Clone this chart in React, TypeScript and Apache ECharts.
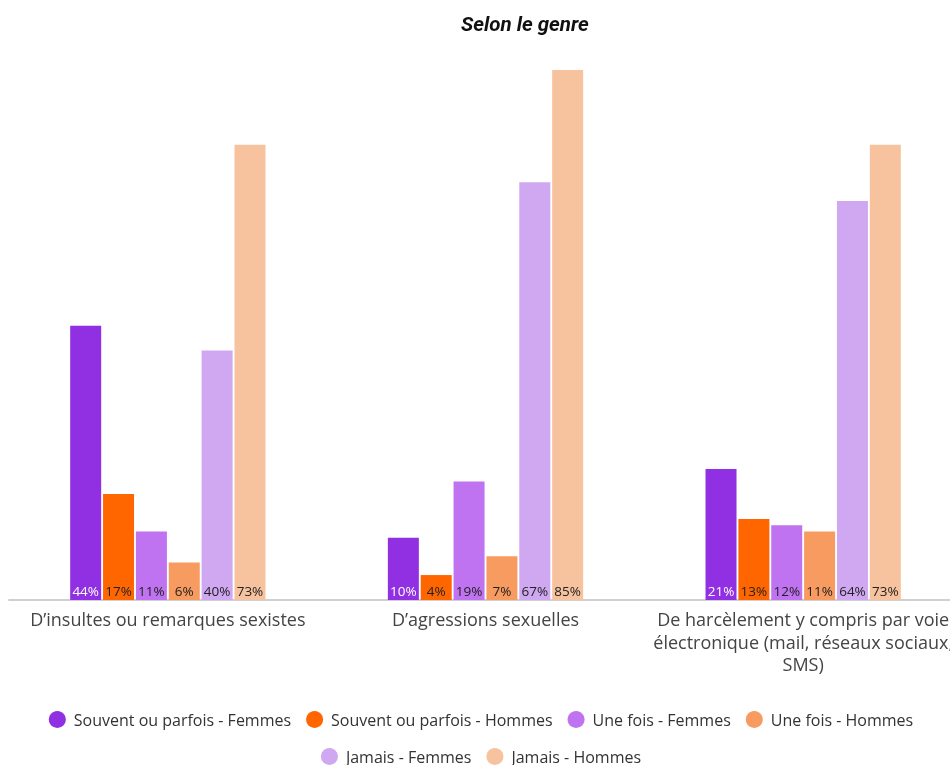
import React, { useEffect, useRef } from "react";
import * as echarts from "echarts";

const categories = [
  "D\u2019insultes ou remarques sexistes",
  "D\u2019agressions sexuelles",
  "De harcèlement y compris par voie\nélectronique (mail, réseaux sociaux,\nSMS)",
];
const seriesNames = [
  "Souvent ou parfois - Femmes",
  "Souvent ou parfois - Hommes",
  "Une fois - Femmes",
  "Une fois - Hommes",
  "Jamais - Femmes",
  "Jamais - Hommes",
];
const souventFemmes = [44, 10, 21];
const souventHommes = [17, 4, 13];
const uneFoisFemmes = [11, 19, 12];
const uneFoisHommes = [6, 7, 11];
const jamaisFemmes = [40, 67, 64];
const jamaisHommes = [73, 85, 73];
const seriesValues = [souventFemmes, souventHommes, uneFoisFemmes, uneFoisHommes, jamaisFemmes, jamaisHommes];
const colors = ["#9130e3", "#ff6600", "#c073f0", "#f79b60", "#d0a7f1", "#f7c39e"];
const labelColors = ["#ffffff", "#222222", "#222222", "#222222", "#222222", "#222222"];

const legendBase = {
  left: "center",
  icon: "circle",
  itemWidth: 17,
  itemHeight: 17,
  itemGap: 15,
  textStyle: { fontFamily: "Open Sans", fontSize: 16, color: "#333", padding: [0, 0, 0, 3] },
};

export default function App() {
  const ref = useRef<HTMLDivElement>(null);
  useEffect(() => {
    const chart = echarts.init(ref.current!, null, { renderer: "svg" });
    chart.setOption({
      animation: false,
      title: {
        text: "Selon le genre",
        left: 456,
        top: 9,
        textStyle: { fontFamily: "Roboto", fontStyle: "italic", fontWeight: "bold", fontSize: 20.5, color: "#111" },
      },
      legend: [
        { ...legendBase, top: 706, data: seriesNames.slice(0, 4) },
        { ...legendBase, top: 743, data: seriesNames.slice(4) },
      ],
      grid: { left: 9, right: 0, top: 70, bottom: 165, containLabel: false },
      xAxis: {
        type: "category",
        data: categories,
        axisTick: { show: false },
        axisLine: { lineStyle: { color: "#d0d0d0", width: 2 } },
        axisLabel: { fontFamily: "Open Sans", fontSize: 18, color: "#444", lineHeight: 22.5, margin: 8, interval: 0 },
      },
      yAxis: { type: "value", min: 0, max: 85, show: false, splitLine: { show: false } },
      series: seriesNames.map((name, i) => ({
        name,
        type: "bar",
        data: seriesValues[i],
        barWidth: 31,
        barGap: "6%",
        itemStyle: { color: colors[i] },
        label: {
          show: true,
          position: "insideBottom",
          distance: 2,
          formatter: "{c}%",
          fontFamily: "Open Sans",
          fontSize: 13.5,
          color: labelColors[i],
        },
      })),
    });
    return () => chart.dispose();
  }, []);
  return <div ref={ref} style={{ position: "fixed", left: 0, top: 0, width: 962, height: 765 }} />;
}
